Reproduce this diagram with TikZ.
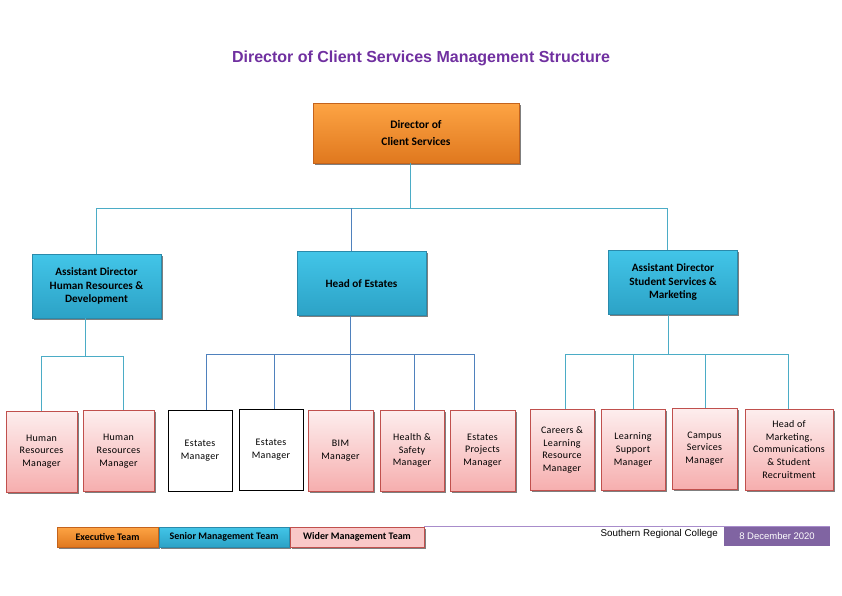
\documentclass[tikz,border=0pt]{standalone}
\usepackage{fontspec}
\setmainfont{Carlito}
\newfontfamily\arialfont{Liberation Sans}
\newfontfamily\roomyfont[LetterSpace=3]{Carlito}
\usetikzlibrary{shadows}
\definecolor{titlepurple}{HTML}{7030A0}
\definecolor{footpurple}{HTML}{8064A2}
\definecolor{footline}{HTML}{A88CCB}
\definecolor{orangetop}{HTML}{FDA444}
\definecolor{orangebot}{HTML}{E0781E}
\definecolor{orangeline}{HTML}{C4631C}
\definecolor{bluetop}{HTML}{42C5E8}
\definecolor{bluebot}{HTML}{2CA2C6}
\definecolor{blueline}{HTML}{2A8AAB}
\definecolor{pinktop}{HTML}{FDEEEE}
\definecolor{pinkbot}{HTML}{F6AEAE}
\definecolor{pinkline}{HTML}{C0504D}
\definecolor{linkteal}{HTML}{4BACC6}
\definecolor{linkblue}{HTML}{4F81BD}
\begin{document}
\begin{tikzpicture}[x=1pt, y=-1pt,
		boxshadow/.style={drop shadow={shadow xshift=1.5pt, shadow yshift=-1.5pt, fill=black, opacity=0.5}},
		exec/.style={draw=orangeline, top color=orangetop, bottom color=orangebot, boxshadow, align=center, inner sep=1pt},
		senior/.style={draw=blueline, line width=0.8pt, top color=bluetop, bottom color=bluebot, boxshadow, align=center, inner sep=1pt},
		wider/.style={draw=pinkline, line width=0.8pt, top color=pinktop, bottom color=pinkbot, boxshadow, align=center, inner sep=1pt,
			minimum height=81, font=\roomyfont\fontsize{10}{12.8}\selectfont},
		vacant/.style={draw=black, line width=0.9pt, fill=white, align=center, inner sep=1pt,
			minimum height=81, font=\roomyfont\fontsize{10}{12.8}\selectfont},
		lvltwo/.style={senior, minimum width=129, minimum height=64, font=\bfseries\fontsize{11.2}{13.5}\selectfont},
		legend/.style={minimum height=20, inner sep=1pt, font=\bfseries\fontsize{10}{11}\selectfont},
		link/.style={draw=linkteal, line width=0.8pt},
		estlink/.style={draw=linkblue, line width=0.8pt}]
	\useasboundingbox (0,0) rectangle (842,595);

	\node[font=\arialfont\bfseries\fontsize{16}{19}\selectfont, text=titlepurple] (title) at (421,58) {Director of Client Services Management Structure};

	\node[exec, minimum width=206, minimum height=60, font=\bfseries\fontsize{11.5}{17}\selectfont] (dir) at (416,133) {Director of\\Client Services};

	\node[lvltwo] (hrd) at (96.5,286) {Assistant Director\\Human Resources \&\\Development};
	\node[lvltwo] (est) at (361.5,283.5) {Head of Estates};
	\node[lvltwo] (ssm) at (673,282.5) {Assistant Director\\Student Services \&\\Marketing};

	\coordinate (bus) at (410,208);
	\coordinate (dh) at (96,208);
	\coordinate (de) at (351,208);
	\coordinate (ds) at (667,208);
	\draw[link] (dir.south -| bus) -- (bus);
	\draw[link] (dh) -- (ds);
	\draw[link] (dh) -- (hrd.north -| dh);
	\draw[estlink] (de) -- (est.north -| de);
	\draw[link] (ds) -- (ssm.north -| ds);

	\node[wider, minimum width=71] (hr1) at (41.5,451.5) {Human\\Resources\\Manager};
	\node[wider, minimum width=71] (hr2) at (118.5,451) {Human\\Resources\\Manager};
	\node[vacant, minimum width=64] (em1) at (200,451) {Estates\\Manager};
	\node[vacant, minimum width=64] (em2) at (271,450) {Estates\\Manager};
	\node[wider, minimum width=65] (bim) at (340.5,450.5) {BIM\\Manager};
	\node[wider, minimum width=64] (hs) at (412,450.5) {Health \&\\Safety\\Manager};
	\node[wider, minimum width=65] (epm) at (482.5,450.5) {Estates\\Projects\\Manager};
	\node[wider, minimum width=64] (clr) at (562,450) {Careers \&\\Learning\\Resource\\Manager};
	\node[wider, minimum width=64] (ls) at (633,450) {Learning\\Support\\Manager};
	\node[wider, minimum width=65] (cs) at (704.5,448.5) {Campus\\Services\\Manager};
	\node[wider, minimum width=88] (hm) at (789,449.5) {Head of\\Marketing,\\Communications\\\& Student\\Recruitment};

	\coordinate (hb) at (85,356);
	\coordinate (eb) at (350,354);
	\coordinate (sb) at (668,354);
	\draw[link] (hrd.south -| hb) -- (hb);
	\draw[link] (41,356) -- (123,356);
	\foreach \n/\x in {hr1/41, hr2/123}
		\draw[link] (\x,356) -- (\n.north -| \x,0);
	\draw[estlink] (est.south -| eb) -- (eb);
	\draw[estlink] (206,354) -- (474,354);
	\foreach \n/\x in {em1/206, em2/274, bim/350, hs/414, epm/474}
		\draw[estlink] (\x,354) -- (\n.north -| \x,0);
	\draw[link] (ssm.south -| sb) -- (sb);
	\draw[link] (565,354) -- (788,354);
	\foreach \n/\x in {clr/565, ls/633, cs/705, hm/788}
		\draw[link] (\x,354) -- (\n.north -| \x,0);

	\node[legend, exec, minimum width=101] (lexec) at (107.5,537) {Executive Team};
	\node[legend, senior, minimum width=130] (lsen) at (224,537) {Senior Management Team};
	\node[legend, draw=pinkline, fill=pinktop!40!pinkbot, boxshadow, minimum width=134] (lwid) at (357,537) {Wider Management Team};

	\node[fill=footpurple, text=white, minimum width=106, minimum height=19, inner sep=0pt, font=\arialfont\fontsize{9.5}{11}\selectfont] (date) at (777,536.5) {8 December 2020};
	\draw[draw=footline, line width=0.8pt] (lwid.north east) -- (date.north east);
	\node[anchor=east, inner sep=0pt, font=\arialfont\fontsize{9.8}{11}\selectfont] (src) at (718,534) {Southern Regional College};
\end{tikzpicture}
\end{document}
